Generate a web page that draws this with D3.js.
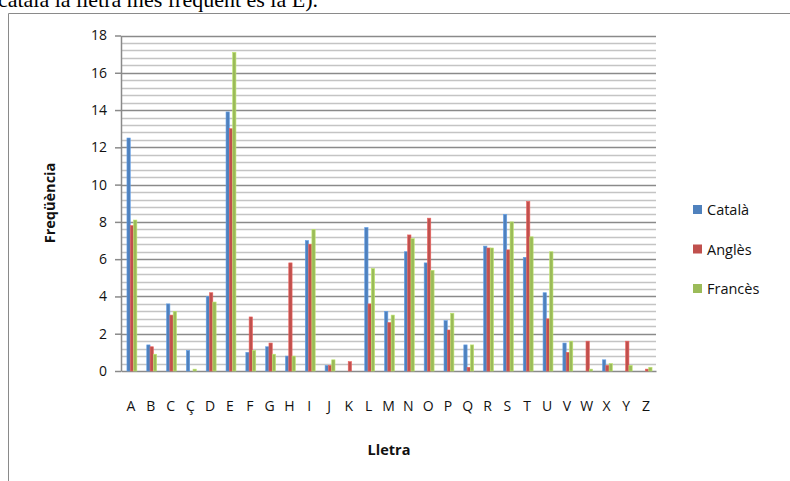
<!DOCTYPE html>
<html>
<head>
<meta charset="utf-8">
<script src="https://cdn.jsdelivr.net/npm/d3@7"></script>
<style>
  html, body { margin: 0; padding: 0; background: #fff; overflow: hidden; }
  svg { display: block; }
</style>
</head>
<body>
<svg id="chart" width="790" height="481"></svg>
<script>
// Letter frequencies (%) in Catalan, English and French
const letters = ["A","B","C","Ç","D","E","F","G","H","I","J","K","L","M","N","O","P","Q","R","S","T","U","V","W","X","Y","Z"];
const catala  = [12.5,1.4,3.6,1.1,4.0,13.9,1.0,1.3,0.8,7.0,0.3,0.0,7.7,3.2,6.4,5.8,2.7,1.4,6.7,8.4,6.1,4.2,1.5,0.0,0.6,0.0,0.0];
const angles  = [7.8,1.3,3.0,0.0,4.2,13.0,2.9,1.5,5.8,6.8,0.3,0.5,3.6,2.6,7.3,8.2,2.2,0.2,6.6,6.5,9.1,2.8,1.0,1.6,0.3,1.6,0.1];
const frances = [8.1,0.9,3.2,0.1,3.7,17.1,1.1,0.9,0.8,7.6,0.6,0.0,5.5,3.0,7.1,5.4,3.1,1.4,6.6,8.0,7.2,6.4,1.6,0.1,0.4,0.3,0.2];
const seriesNames = ["Català","Anglès","Francès"];
const seriesColors = ["#4F81BD","#C0504D","#9BBB59"];
const yTicks = [0,2,4,6,8,10,12,14,16,18];

const series = [catala, angles, frances];
const svg = d3.select("#chart");
const font = "'Open Sans', Lato, sans-serif";

// Paragraph line above the chart frame
svg.append("text")
  .attr("x", 318).attr("y", 7)
  .attr("text-anchor", "end")
  .attr("font-family", "'Liberation Serif', 'Times New Roman', serif")
  .attr("font-size", 22)
  .attr("fill", "#000")
  .text("(en català la lletra més freqüent és la E).");

// Chart frame
svg.append("path")
  .attr("d", "M8.5,481 V13.5 H790")
  .attr("fill", "none")
  .attr("stroke", "#8a8a8a")
  .attr("stroke-width", 1);

const plotLeft = 121, plotRight = 656, plotTop = 35.5, plotBottom = 371;

const x = d3.scaleBand().domain(letters).range([plotLeft, plotRight]).paddingInner(0).paddingOuter(0);
const y = d3.scaleLinear().domain([0, 18]).range([plotBottom, plotTop]);

// Minor gridlines every 0.4
const minor = d3.range(0, 18.0001, 0.4).filter(v => Math.abs(v / 2 - Math.round(v / 2)) > 1e-6);
svg.append("g").selectAll("line").data(minor).join("line")
  .attr("x1", plotLeft).attr("x2", plotRight)
  .attr("y1", d => Math.round(y(d)) + 0.5).attr("y2", d => Math.round(y(d)) + 0.5)
  .attr("stroke", "#c4c4c4").attr("stroke-width", 1.5);

// Major gridlines
svg.append("g").selectAll("line").data(yTicks.filter(d => d > 0)).join("line")
  .attr("x1", plotLeft).attr("x2", plotRight)
  .attr("y1", d => Math.round(y(d)) + 0.5).attr("y2", d => Math.round(y(d)) + 0.5)
  .attr("stroke", "#8a8a8a").attr("stroke-width", 1.5);

// Y axis
const yAxis = svg.append("g")
  .attr("transform", `translate(${plotLeft},0)`)
  .call(d3.axisLeft(y).tickValues(yTicks).tickSize(6).tickPadding(8).tickSizeOuter(0));
yAxis.select(".domain").attr("stroke", "#8a8a8a").attr("stroke-width", 1.5);
yAxis.selectAll(".tick line").attr("stroke", "#8a8a8a").attr("stroke-width", 1.5);
yAxis.selectAll(".tick text")
  .attr("font-family", font).attr("font-size", 14).attr("fill", "#111");

// X axis
const xAxis = svg.append("g")
  .attr("transform", `translate(0,${plotBottom})`)
  .call(d3.axisBottom(x).tickSize(0).tickPadding(30).tickSizeOuter(0));
xAxis.select(".domain").attr("stroke", "#8a8a8a").attr("stroke-width", 1.5);
xAxis.selectAll(".tick text")
  .attr("font-family", font).attr("font-size", 14).attr("fill", "#111");

// Bars
const groupW = x.bandwidth() * 0.5;
const xs = d3.scaleBand().domain(d3.range(3)).range([0, groupW]);
const groupOff = (x.bandwidth() - groupW) / 2 + 1;

series.forEach((vals, si) => {
  svg.append("g").selectAll("rect").data(vals.map((v, i) => ({ l: letters[i], v })))
    .join("rect")
    .attr("x", d => x(d.l) + groupOff + xs(si))
    .attr("width", xs.bandwidth())
    .attr("y", d => y(d.v))
    .attr("height", d => plotBottom - y(d.v))
    .attr("fill", seriesColors[si])
    .attr("stroke", d3.color(seriesColors[si]).brighter(0.6))
    .attr("stroke-width", 0.6);
});

// Axis titles
svg.append("text")
  .attr("x", 389).attr("y", 455)
  .attr("text-anchor", "middle")
  .attr("font-family", font).attr("font-size", 14.5).attr("font-weight", "bold")
  .attr("fill", "#111")
  .text("Lletra");

svg.append("text")
  .attr("transform", "translate(55,203) rotate(-90)")
  .attr("text-anchor", "middle")
  .attr("font-family", font).attr("font-size", 14.5).attr("font-weight", "bold")
  .attr("fill", "#111")
  .text("Freqüència");

// Legend
const legend = svg.append("g");
seriesNames.forEach((name, i) => {
  const ly = 210 + i * 39.5;
  legend.append("rect")
    .attr("x", 693).attr("y", ly - 5).attr("width", 9).attr("height", 9)
    .attr("fill", seriesColors[i]);
  legend.append("text")
    .attr("x", 707).attr("y", ly + 5)
    .attr("font-family", font).attr("font-size", 14.5)
    .attr("fill", "#111")
    .text(name);
});
</script>
</body>
</html>
